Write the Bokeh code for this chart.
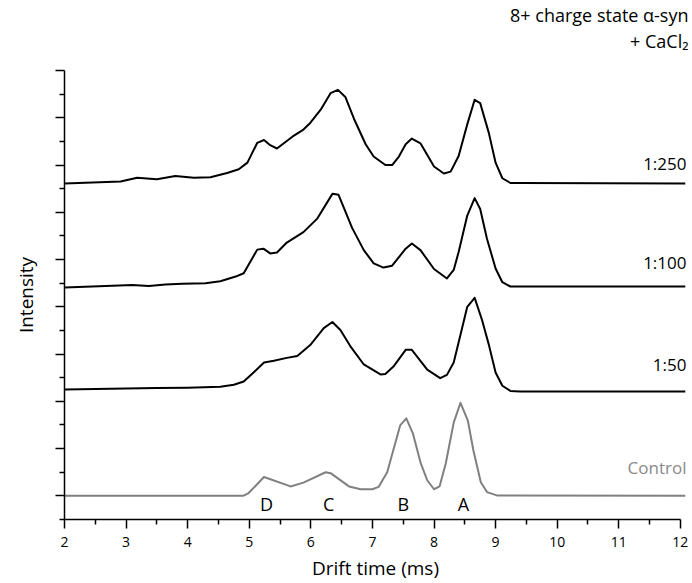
from bokeh.plotting import figure
from bokeh.models import Range1d, FixedTicker, Title
from bokeh.core.properties import value
from bokeh.embed import file_html
from bokeh.resources import INLINE

FONT = "Open Sans"

# ---- data (drift time in ms, intensity in arbitrary units above each trace's baseline) ----
series_names = ["Control", "1:50", "1:100", "1:250"]
offsets = [0.0, 2.21, 4.41, 6.61]

ctrl_t = [2.0, 4.9, 4.99, 5.24, 5.67, 5.88, 6.24, 6.32, 6.62, 6.81, 7.0, 7.10, 7.24, 7.45, 7.55,
          7.66, 7.78, 7.89, 8.0, 8.09, 8.19, 8.32, 8.43, 8.55, 8.64, 8.76, 8.86, 9.02, 12.08]
ctrl_i = [0.0, 0.0, 0.06, 0.40, 0.20, 0.28, 0.50, 0.48, 0.20, 0.14, 0.14, 0.19, 0.50, 1.49, 1.64,
          1.31, 0.71, 0.33, 0.14, 0.20, 0.68, 1.55, 1.97, 1.59, 0.96, 0.29, 0.08, 0.01, 0.0]

r50_t = [2.0, 2.5, 3.0, 3.5, 4.0, 4.53, 4.75, 4.91, 5.07, 5.24, 5.40, 5.61, 5.78, 5.99, 6.21, 6.35,
         6.48, 6.64, 6.86, 7.13, 7.21, 7.35, 7.54, 7.64, 7.89, 8.10, 8.21, 8.32, 8.43, 8.54, 8.66,
         8.78, 8.89, 9.0, 9.11, 9.24, 9.40, 12.08]
r50_i = [0.04, 0.05, 0.06, 0.07, 0.08, 0.10, 0.14, 0.21, 0.40, 0.61, 0.65, 0.71, 0.75, 0.98, 1.34, 1.47,
         1.30, 0.96, 0.57, 0.36, 0.37, 0.54, 0.88, 0.88, 0.46, 0.28, 0.35, 0.61, 1.20, 1.79, 1.98,
         1.51, 0.99, 0.40, 0.12, 0.01, 0.0, 0.0]

r100_t = [2.0, 2.67, 3.10, 3.37, 3.64, 3.91, 4.29, 4.53, 4.78, 4.91, 5.13, 5.23, 5.34, 5.45, 5.61,
          5.88, 6.10, 6.35, 6.45, 6.67, 6.86, 7.02, 7.18, 7.32, 7.54, 7.64, 7.78, 8.0, 8.21, 8.32,
          8.40, 8.54, 8.66, 8.75, 8.86, 9.0, 9.11, 9.24, 9.40, 12.08]
r100_i = [0.0, 0.03, 0.05, 0.03, 0.06, 0.08, 0.09, 0.13, 0.23, 0.30, 0.80, 0.82, 0.72, 0.74, 0.95,
          1.17, 1.45, 1.98, 1.96, 1.26, 0.79, 0.51, 0.42, 0.46, 0.82, 0.93, 0.79, 0.39, 0.19, 0.37,
          0.75, 1.52, 1.89, 1.66, 1.03, 0.40, 0.11, 0.02, 0.02, 0.02]

r250_t = [2.0, 2.91, 3.18, 3.50, 3.80, 4.10, 4.37, 4.64, 4.83, 4.97, 5.13, 5.24, 5.34, 5.45, 5.70,
          5.88, 5.99, 6.16, 6.32, 6.44, 6.56, 6.70, 6.89, 7.02, 7.21, 7.32, 7.43, 7.54, 7.64, 7.78,
          8.0, 8.16, 8.27, 8.40, 8.54, 8.66, 8.75, 8.89, 9.0, 9.11, 9.24, 9.40, 12.08]
r250_i = [0.0, 0.04, 0.12, 0.09, 0.16, 0.12, 0.13, 0.22, 0.30, 0.44, 0.86, 0.92, 0.81, 0.74, 0.99,
          1.14, 1.28, 1.56, 1.91, 1.98, 1.83, 1.37, 0.83, 0.57, 0.39, 0.39, 0.57, 0.83, 0.95, 0.85,
          0.36, 0.21, 0.25, 0.58, 1.25, 1.77, 1.70, 1.07, 0.44, 0.11, 0.01, 0.01, 0.0]

series_t = [ctrl_t, r50_t, r100_t, r250_t]
series_i = [ctrl_i, r50_i, r100_i, r250_i]
series_colors = ["#808080", "black", "black", "black"]
label_colors = ["#8a8a8a", "black", "black", "black"]
label_y = [0.61, 2.77, 4.94, 7.04]

peak_names = ["D", "C", "B", "A"]
peak_t = [5.28, 6.29, 7.50, 8.48]

x_ticks = [2, 3, 4, 5, 6, 7, 8, 9, 10, 11, 12]
title_lines = ["8+ charge state \u03b1-syn", "+ CaCl\u2082"]

# ---- figure ----
p = figure(width=692, height=583, x_range=Range1d(2, 12.1), y_range=Range1d(-0.5, 9),
           output_backend="svg", toolbar_location=None, title=None,
           min_border_left=64, min_border_right=6, min_border_top=70, min_border_bottom=61)
p.outline_line_color = None
p.grid.visible = False
p.background_fill_color = "white"

p.xaxis.ticker = FixedTicker(ticks=x_ticks, minor_ticks=[t + 0.5 for t in x_ticks[:-1]])
p.xaxis.bounds = (2, 12)
p.yaxis.ticker = FixedTicker(ticks=list(range(0, 10)), minor_ticks=[k + 0.5 for k in range(-1, 9)])
p.yaxis.major_label_text_font_size = "0px"
p.yaxis.major_label_text_color = None
p.yaxis.major_label_standoff = 0

for ax in (p.xaxis, p.yaxis):
    ax.axis_line_width = 1.5
    ax.axis_line_color = "black"
    ax.major_tick_line_width = 1.5
    ax.minor_tick_line_width = 1.5
    ax.major_tick_line_color = "black"
    ax.minor_tick_line_color = "black"
    ax.major_tick_in = 0
    ax.major_tick_out = 9
    ax.minor_tick_in = 0
    ax.minor_tick_out = 5
    ax.axis_label_text_font = FONT
    ax.axis_label_text_font_style = "normal"
    ax.axis_label_text_font_size = "19px"
    ax.axis_label_text_color = "black"

p.xaxis.axis_label = "Drift time (ms)"
p.xaxis.major_label_text_font = FONT
p.xaxis.major_label_text_font_size = "14px"
p.xaxis.major_label_text_color = "black"
p.xaxis.major_label_standoff = 8
p.xaxis.axis_label_standoff = 5

p.yaxis.axis_label = "Intensity"
p.yaxis.axis_label_standoff = 17

for t, inten, off, col in zip(series_t, series_i, offsets, series_colors):
    p.line(t, [v + off for v in inten], line_color=col, line_width=2, line_join="round")

p.text(x=[12.1] * len(series_names), y=label_y, text=series_names, text_font=value(FONT),
       text_font_size="17px", text_align="right", text_baseline="middle", text_color=label_colors)

p.text(x=peak_t, y=[-0.17] * len(peak_t), text=peak_names, text_font=value(FONT),
       text_font_size="18px", text_align="center", text_baseline="middle", text_color="black")

# title lines, right aligned above the plot area (a thin spacer keeps them off the frame)
p.add_layout(Title(text=" ", text_font_size="1px", standoff=15), "above")
p.add_layout(Title(text=title_lines[1], align="right", text_font=FONT, text_font_size="18px",
                   text_font_style="normal", text_color="black", standoff=0, offset=-2), "above")
p.add_layout(Title(text=title_lines[0], align="right", text_font=FONT, text_font_size="18px",
                   text_font_style="normal", text_color="black", standoff=0, offset=-2), "above")

open("out.html", "w").write(file_html(p, INLINE))
